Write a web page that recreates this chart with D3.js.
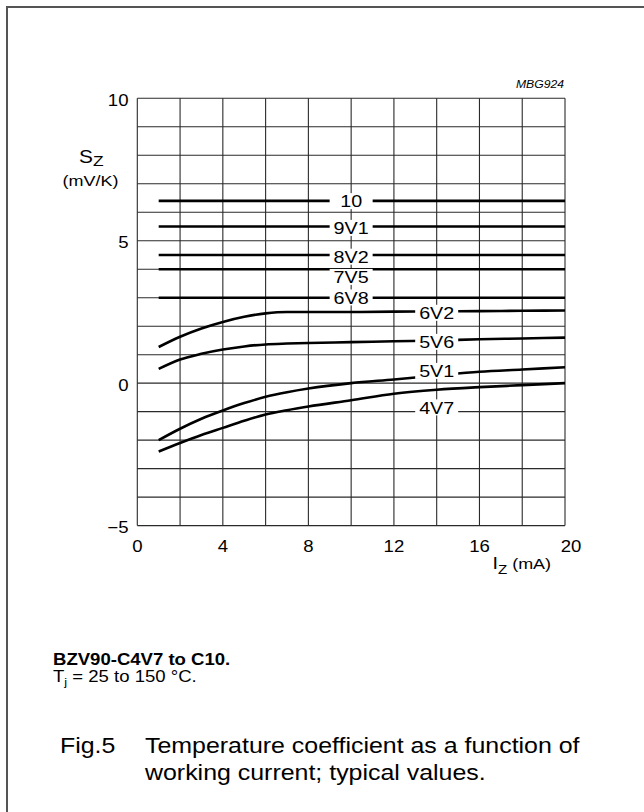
<!DOCTYPE html>
<html>
<head>
<meta charset="utf-8">
<script src="https://cdn.jsdelivr.net/npm/d3@7/dist/d3.min.js"></script>
<style>
body { margin: 0; background: #fff; }
svg text { font-family: Arial, "Liberation Sans", Helvetica, sans-serif; fill: #000; }
</style>
</head>
<body>
<div class="container"></div>
<script>
// Data (I_Z in mA, S_Z in mV/K)
const flatCurrent = [1, 20];
const sz10  = [6.4, 6.4];
const sz9V1 = [5.5, 5.5];
const sz8V2 = [4.5, 4.5];
const sz7V5 = [4.0, 4.0];
const sz6V8 = [3.0, 3.0];

const current = [1, 2, 3, 4, 5, 6, 7, 8, 10, 12, 14, 16, 18, 20];
const sz6V2 = [1.27, 1.63, 1.92, 2.15, 2.33, 2.45, 2.5, 2.5, 2.5, 2.51, 2.52, 2.53, 2.54, 2.55];
const sz5V6 = [0.5, 0.83, 1.03, 1.18, 1.29, 1.36, 1.39, 1.41, 1.44, 1.47, 1.5, 1.54, 1.57, 1.6];
const sz5V1 = [-2.0, -1.6, -1.25, -0.96, -0.7, -0.48, -0.32, -0.19, 0.0, 0.13, 0.27, 0.4, 0.48, 0.56];
const sz4V7 = [-2.4, -2.1, -1.82, -1.57, -1.32, -1.1, -0.95, -0.82, -0.6, -0.37, -0.23, -0.14, -0.07, 0.0];

const seriesNames = ["10", "9V1", "8V2", "7V5", "6V8", "6V2", "5V6", "5V1", "4V7"];
const labelCurrent = [10, 10, 10, 10, 10, 14, 14, 14, 14];
const labelSz = [6.39, 5.45, 4.44, 3.73, 3.01, 2.47, 1.45, 0.43, -0.85];

const xTicks = [0, 4, 8, 12, 16, 20];
const yTicks = [10, 5, 0, -5];

const series = [
  [flatCurrent, sz10], [flatCurrent, sz9V1], [flatCurrent, sz8V2], [flatCurrent, sz7V5], [flatCurrent, sz6V8],
  [current, sz6V2], [current, sz5V6], [current, sz5V1], [current, sz4V7]
];

// Dimensions
const w = 644;
const h = 812;
const plotL = 137.3, plotR = 565, plotT = 98.3, plotB = 525.6;
const stretch = 1.16; // text in the figure is drawn a bit wide

const xScale = d3.scaleLinear().domain([0, 20]).range([plotL, plotR]);
const yScale = d3.scaleLinear().domain([-5, 10]).range([plotB, plotT]);

const svg = d3.select(".container")
  .append("svg")
  .attr("width", w)
  .attr("height", h);

// outer frame (only top and left edges fall inside the picture)
svg.append("rect")
  .attr("x", 7).attr("y", 7)
  .attr("width", 800).attr("height", 1000)
  .attr("fill", "none")
  .attr("stroke", "#555")
  .attr("stroke-width", 2);

// helper for stretched text
function label(x, y, str, size, anchor, weight, style) {
  return svg.append("text")
    .attr("transform", `translate(${x},${y}) scale(${stretch},1)`)
    .attr("text-anchor", anchor || "start")
    .style("font-size", size + "px")
    .style("font-weight", weight || "normal")
    .style("font-style", style || "normal")
    .text(str);
}

// Grid
const grid = svg.append("g").attr("stroke", "#2a2a2a").attr("stroke-width", 1.1);
grid.selectAll(".gx")
  .data(d3.range(0, 21, 2))
  .enter().append("line")
  .attr("x1", d => xScale(d)).attr("x2", d => xScale(d))
  .attr("y1", plotT).attr("y2", plotB);
grid.selectAll(".gy")
  .data(d3.range(-5, 11, 1))
  .enter().append("line")
  .attr("x1", plotL).attr("x2", plotR)
  .attr("y1", d => yScale(d)).attr("y2", d => yScale(d));

// Curves
const line = d3.line()
  .x(d => xScale(d[0]))
  .y(d => yScale(d[1]))
  .curve(d3.curveMonotoneX);

svg.selectAll(".curve")
  .data(series)
  .enter().append("path")
  .attr("class", "curve")
  .attr("d", s => line(s[0].map((x, i) => [x, s[1][i]])))
  .attr("fill", "none")
  .attr("stroke", "#000")
  .attr("stroke-width", 2.6);

// Curve labels with white boxes
svg.selectAll(".lbox")
  .data(seriesNames)
  .enter().append("rect")
  .attr("x", (d, i) => xScale(labelCurrent[i]) - 21.5)
  .attr("y", (d, i) => yScale(labelSz[i]) - 8)
  .attr("width", 43)
  .attr("height", 16)
  .attr("fill", "#fff");

seriesNames.forEach((name, i) => {
  label(xScale(labelCurrent[i]), yScale(labelSz[i]) + 6.2, name, 17, "middle");
});

// Tick labels
yTicks.forEach(t => {
  label(128.5, yScale(t) + 7.5, t < 0 ? "\u2212" + Math.abs(t) : String(t), 16, "end");
});
xTicks.forEach(t => {
  label(xScale(t) + (t === 20 ? 6 : 0), 551.5, String(t), 16, "middle");
});

// Axis titles
const yt = label(79, 163, "S", 18);
yt.append("tspan").attr("dy", 3).style("font-size", "15px").text("Z");
label(90.5, 185.5, "(mV/K)", 15.5, "middle");

const xt = label(492.5, 569, "I", 17);
xt.append("tspan").attr("dy", 5).style("font-size", "13px").text("Z");
xt.append("tspan").attr("dy", -5).style("font-size", "15.5px").text(" (mA)");

label(564, 88, "MBG924", 10.5, "end", "normal", "italic");

// Captions
label(53, 665, "BZV90-C4V7 to C10.", 16, "start", "bold");
const tj = label(53, 682, "T", 16);
tj.append("tspan").attr("dy", 4).style("font-size", "11px").text("j");
tj.append("tspan").attr("dy", -4).text(" = 25 to 150 \u00b0C.");

label(60, 752.5, "Fig.5", 21.5);
label(145, 752.5, "Temperature coefficient as a function of", 21.5);
label(145, 779.5, "working current; typical values.", 21.5);
</script>
</body>
</html>
